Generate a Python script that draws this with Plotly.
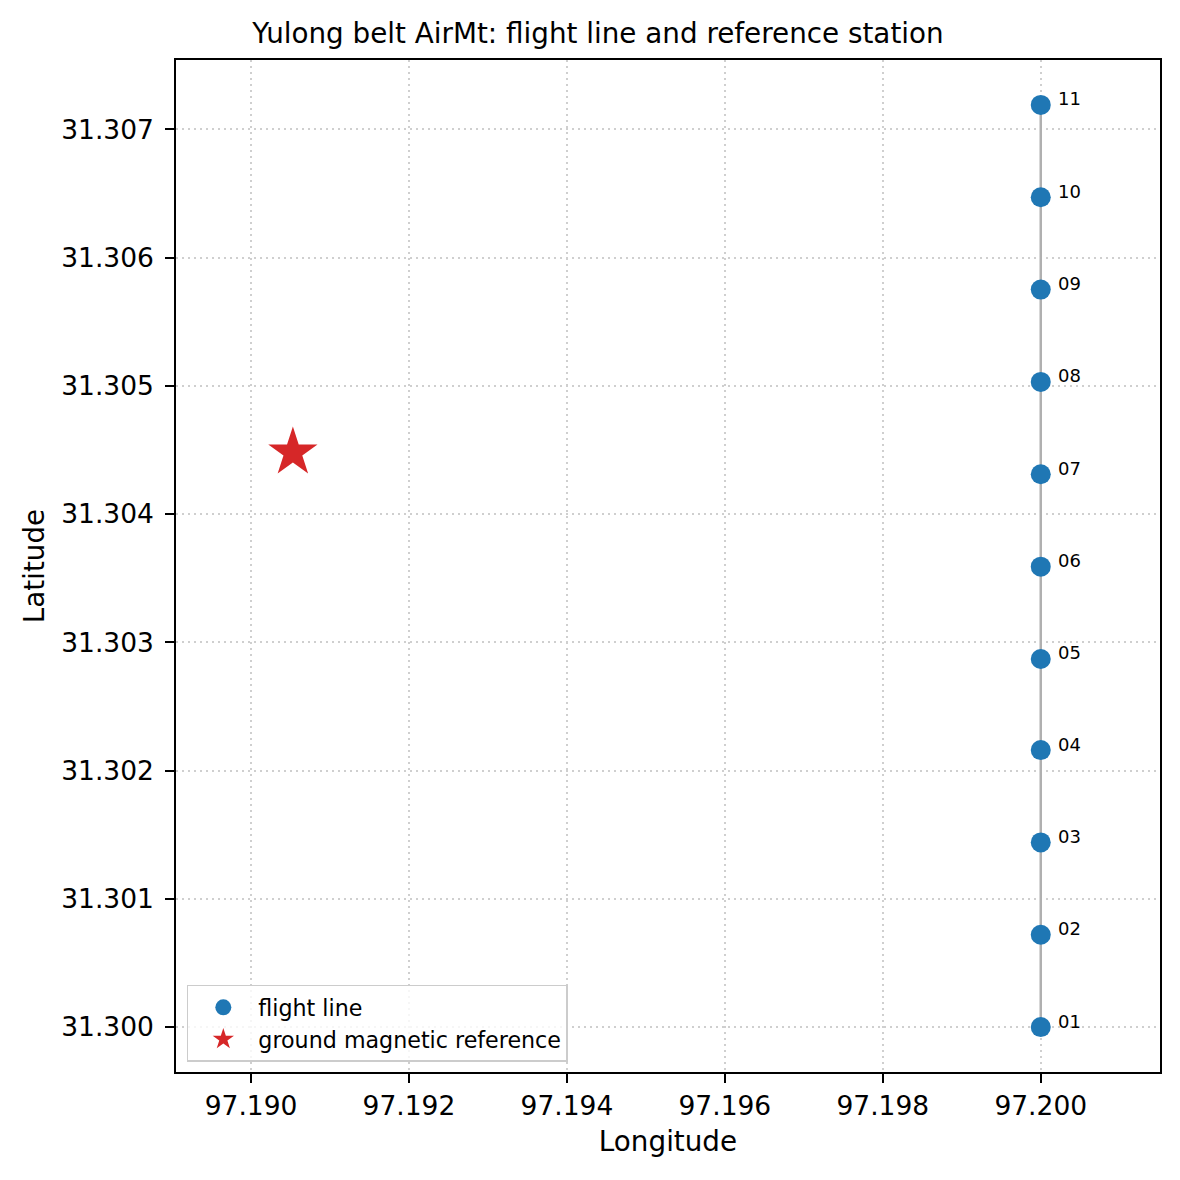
import plotly.graph_objects as go

# flight line stations (lon, lat) and labels
station_ids = ["01", "02", "03", "04", "05", "06", "07", "08", "09", "10", "11"]
line_lon = [97.2] * 11
line_lat = [31.30000, 31.30072, 31.30144, 31.30216, 31.30287, 31.30359,
            31.30431, 31.30503, 31.30575, 31.30647, 31.30719]

# ground magnetic reference station
ref_lon = [97.19053]
ref_lat = [31.30448]

x_ticks = [97.190, 97.192, 97.194, 97.196, 97.198, 97.200]
y_ticks = [31.300, 31.301, 31.302, 31.303, 31.304, 31.305, 31.306, 31.307]

font = "DejaVu Sans"

fig = go.Figure()

# the line joining the stations
fig.add_trace(go.Scatter(
    x=line_lon, y=line_lat, mode="lines",
    line=dict(color="#b0b0b0", width=2.5),
    showlegend=False, hoverinfo="skip"))

fig.add_trace(go.Scatter(
    x=line_lon, y=line_lat, mode="markers", name="flight line",
    marker=dict(color="#1f77b4", size=20)))

fig.add_trace(go.Scatter(
    x=ref_lon, y=ref_lat, mode="markers", name="ground magnetic reference",
    marker=dict(color="#d62728", size=37, symbol="star")))

for sid, lo, la in zip(station_ids, line_lon, line_lat):
    fig.add_annotation(x=lo, y=la, text=sid, showarrow=False,
                       xanchor="left", yanchor="middle",
                       xshift=15, yshift=6,
                       font=dict(family=font, size=18, color="black"))

axis_common = dict(
    showline=True, linecolor="black", linewidth=1.5, mirror=True,
    ticks="outside", ticklen=9, tickwidth=1.5, tickcolor="black",
    showgrid=True, gridcolor="#cfcfcf", griddash="2px,4px", gridwidth=1.6,
    zeroline=False,
    tickfont=dict(family=font, size=26.5, color="black"),
)

fig.update_layout(
    width=1180, height=1180,
    paper_bgcolor="white", plot_bgcolor="white",
    margin=dict(l=168, r=28, t=52, b=116),
    title=dict(text="Yulong belt AirMt: flight line and reference station",
               x=0.5, xanchor="center", y=0.979, yanchor="middle",
               font=dict(family=font, size=27.8, color="black")),
    xaxis=dict(axis_common, range=[97.18905, 97.20151], ticklabelstandoff=0,
               tickvals=x_ticks, ticktext=["%.3f" % v for v in x_ticks],
               title=dict(text="Longitude", font=dict(family=font, size=27.8, color="black"),
                          standoff=12)),
    yaxis=dict(axis_common, range=[31.29965, 31.30754], ticklabelstandoff=6,
               tickvals=y_ticks, ticktext=["%.3f" % v for v in y_ticks],
               title=dict(text="Latitude", font=dict(family=font, size=27.8, color="black"),
                          standoff=8)),
    legend=dict(x=0.011, y=0.01, xanchor="left", yanchor="bottom",
                bgcolor="rgba(255,255,255,0.8)", bordercolor="#cccccc", borderwidth=1.5,
                font=dict(family=font, size=22.2, color="black"),
                itemsizing="trace", itemwidth=60, tracegroupgap=0),
)

fig.write_html("out.html")
